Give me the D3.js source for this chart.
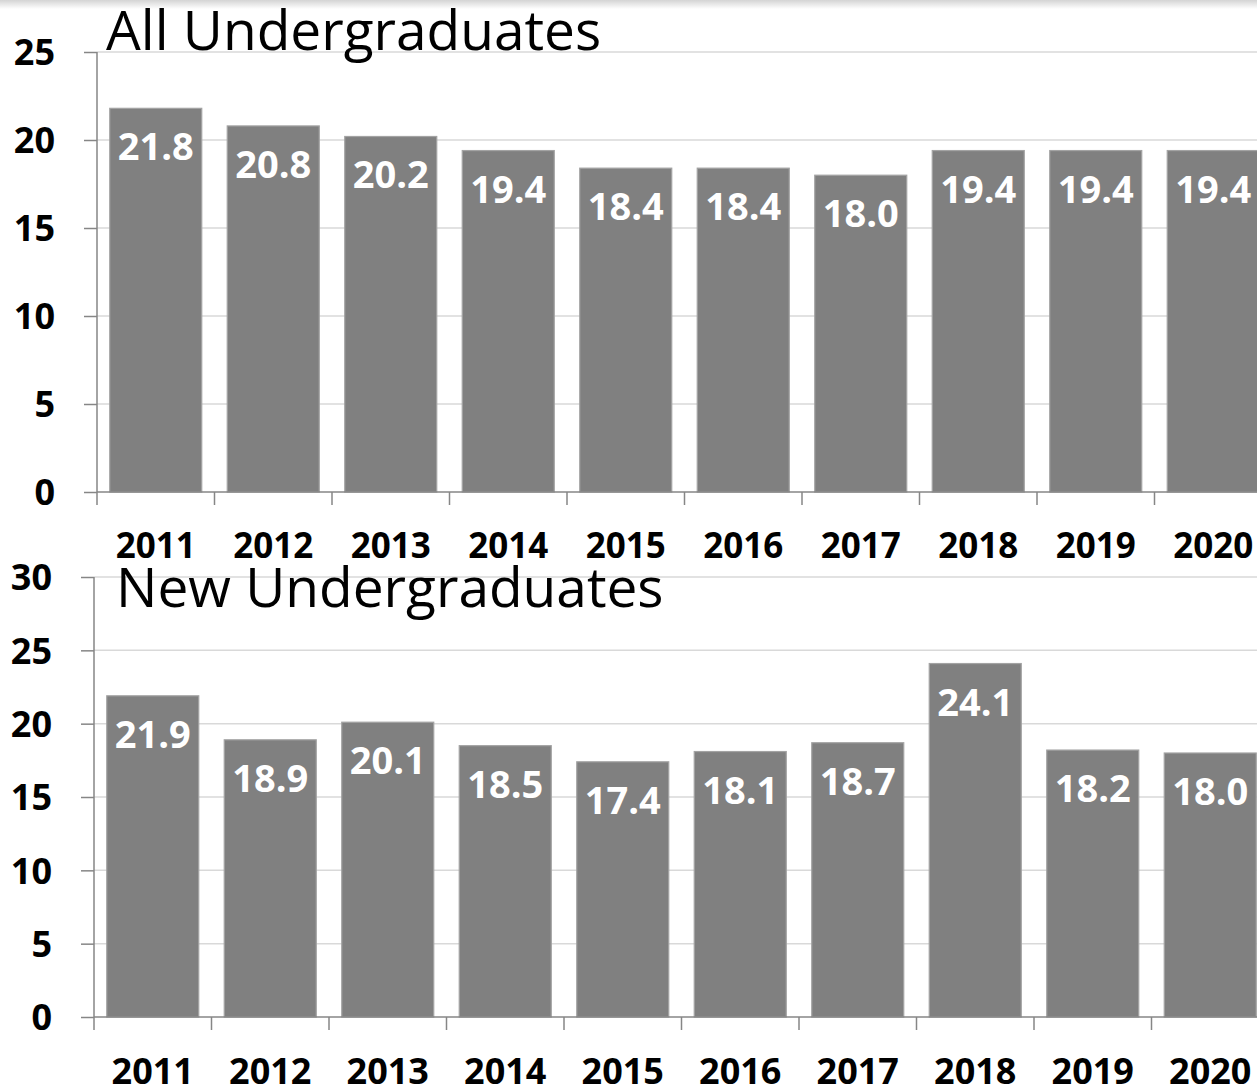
<!DOCTYPE html>
<html>
<head>
<meta charset="utf-8">
<script src="https://cdn.jsdelivr.net/npm/d3@7"></script>
<style>
  html, body { margin: 0; padding: 0; background: #fff; overflow: hidden; }
  svg { display: block; }
</style>
</head>
<body>
<svg id="chart" width="1257" height="1087"></svg>
<script>
// Years shown on both panels
const years = ["2011", "2012", "2013", "2014", "2015", "2016", "2017", "2018", "2019", "2020"];

// Panel values
const allUndergrad = [21.8, 20.8, 20.2, 19.4, 18.4, 18.4, 18.0, 19.4, 19.4, 19.4];
const newUndergrad = [21.9, 18.9, 20.1, 18.5, 17.4, 18.1, 18.7, 24.1, 18.2, 18.0];

// Y tick values for each panel
const allTicks = [0, 5, 10, 15, 20, 25];
const newTicks = [0, 5, 10, 15, 20, 25, 30];

// Panel titles
const allTitle = "All Undergraduates";
const newTitle = "New Undergraduates";

const svg = d3.select("#chart");
const FONT = "'Open Sans', 'Noto Sans', sans-serif";
const AXIS = "#868686";
const GRID = "#d9d9d9";
const BAR = "#808080";
const BAR_EDGE = "#a3a3a3";

// faint shadow along the top edge
const defs = svg.append("defs");
const grad = defs.append("linearGradient").attr("id", "topShade")
  .attr("x1", 0).attr("y1", 0).attr("x2", 0).attr("y2", 1);
grad.append("stop").attr("offset", "0%").attr("stop-color", "#d4d4d4");
grad.append("stop").attr("offset", "100%").attr("stop-color", "#ffffff");
svg.append("rect").attr("x", 0).attr("y", 0).attr("width", 1257).attr("height", 9)
  .attr("fill", "url(#topShade)");

function panel(cfg) {
  const g = svg.append("g");
  const step = 117.5;
  const x = d3.scaleBand()
    .domain(years)
    .range([cfg.left, cfg.left + step * years.length])
    .paddingInner(0.217)
    .paddingOuter(0.1085);
  const y = d3.scaleLinear().domain([0, cfg.max]).range([cfg.bottom, cfg.top]);

  // horizontal gridlines
  g.append("g").selectAll("line")
    .data(cfg.ticks.filter(t => t > 0))
    .join("line")
    .attr("x1", cfg.left).attr("x2", 1300)
    .attr("y1", d => y(d)).attr("y2", d => y(d))
    .attr("stroke", GRID).attr("stroke-width", 1.5);

  // bars
  g.append("g").selectAll("rect")
    .data(cfg.values)
    .join("rect")
    .attr("x", (d, i) => x(years[i]))
    .attr("y", d => y(d))
    .attr("width", x.bandwidth())
    .attr("height", d => y(0) - y(d))
    .attr("fill", BAR)
    .attr("stroke", BAR_EDGE)
    .attr("stroke-width", 1.2);

  // value labels inside the bar tops
  g.append("g").selectAll("text")
    .data(cfg.values)
    .join("text")
    .attr("x", (d, i) => x(years[i]) + x.bandwidth() / 2)
    .attr("y", d => y(d) + 52)
    .attr("text-anchor", "middle")
    .attr("font-family", FONT)
    .attr("font-weight", 700)
    .attr("font-size", 38)
    .attr("fill", "#ffffff")
    .text(d => d.toFixed(1));

  // y axis
  const yAxis = d3.axisLeft(y).tickValues(cfg.ticks).tickSize(13).tickPadding(29).tickFormat(d3.format("d"));
  const ya = g.append("g").attr("transform", `translate(${cfg.left},0)`).call(yAxis);
  ya.select(".domain").attr("stroke", AXIS).attr("stroke-width", 1.5).attr("d", `M0,${cfg.top}V${cfg.bottom}`);
  ya.selectAll(".tick line").attr("stroke", AXIS).attr("stroke-width", 1.5);
  ya.selectAll(".tick text")
    .attr("font-family", FONT).attr("font-weight", 700).attr("font-size", 36)
    .attr("fill", "#000").attr("dy", "0.36em");

  // x axis line
  g.append("line")
    .attr("x1", cfg.left).attr("x2", 1300)
    .attr("y1", y(0)).attr("y2", y(0))
    .attr("stroke", AXIS).attr("stroke-width", 1.5);

  // category boundary ticks
  const bounds = d3.range(years.length + 1).map(i => x.range()[0] + i * x.step());
  g.append("g").selectAll("line")
    .data(bounds)
    .join("line")
    .attr("x1", d => d).attr("x2", d => d)
    .attr("y1", y(0)).attr("y2", y(0) + 13)
    .attr("stroke", AXIS).attr("stroke-width", 1.5);

  // year labels
  g.append("g").selectAll("text")
    .data(years)
    .join("text")
    .attr("x", d => x(d) + x.bandwidth() / 2)
    .attr("y", cfg.yearBaseline)
    .attr("text-anchor", "middle")
    .attr("font-family", FONT)
    .attr("font-weight", 700)
    .attr("font-size", cfg.yearSize)
    .attr("fill", "#000")
    .text(d => d);

  // title
  g.append("text")
    .attr("x", cfg.titleX)
    .attr("y", cfg.titleY)
    .attr("font-family", FONT)
    .attr("font-size", 55)
    .attr("fill", "#000")
    .text(cfg.title);
}

panel({
  values: allUndergrad, ticks: allTicks, max: 25, title: allTitle,
  left: 97, top: 52, bottom: 492, yearBaseline: 558, yearSize: 35, titleX: 106, titleY: 50
});

panel({
  values: newUndergrad, ticks: newTicks, max: 30, title: newTitle,
  left: 94, top: 577, bottom: 1017, yearBaseline: 1084, yearSize: 36, titleX: 116, titleY: 607
});
</script>
</body>
</html>
